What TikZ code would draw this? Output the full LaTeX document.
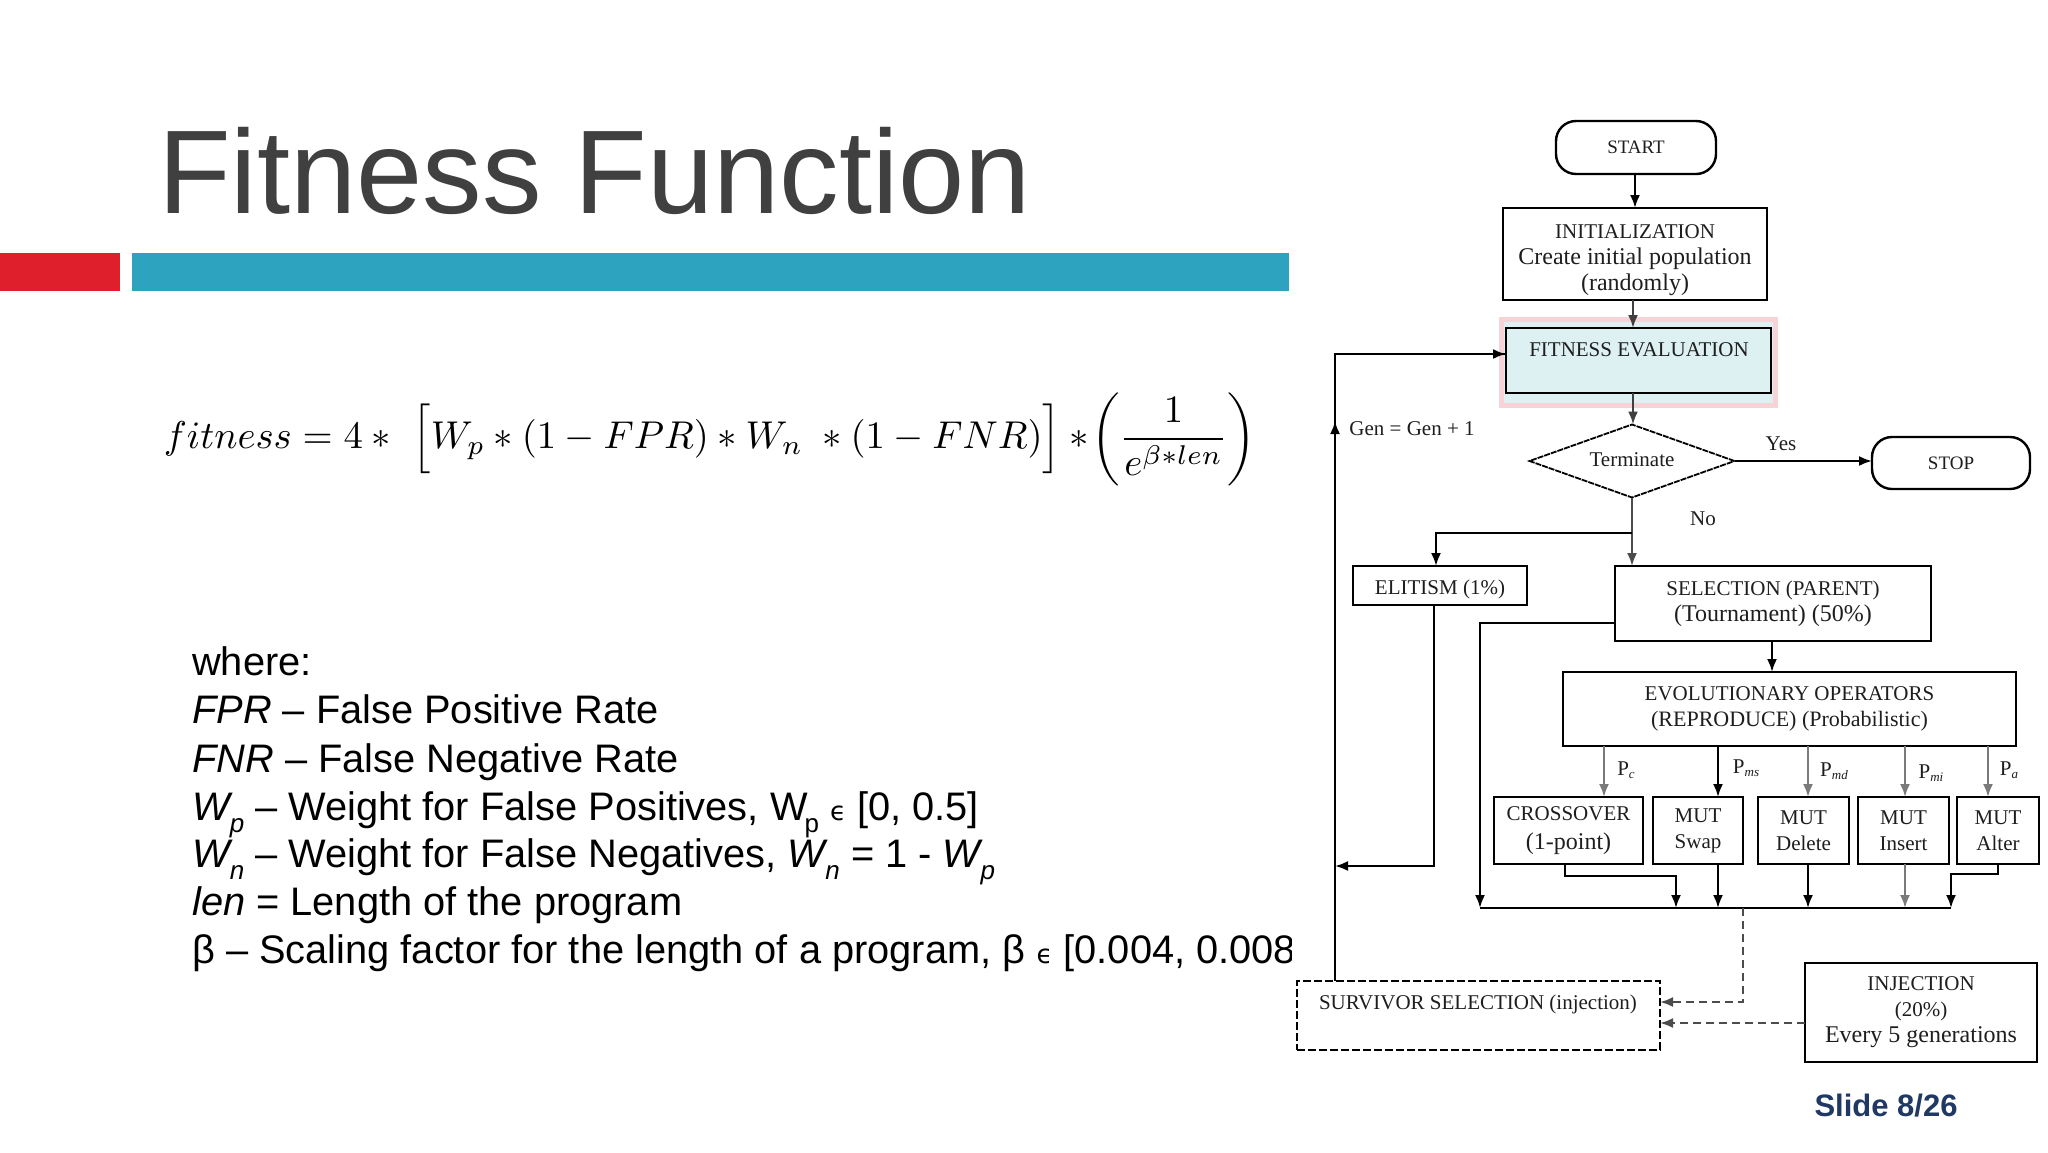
\documentclass[tikz,border=0pt]{standalone}
\usepackage{graphicx}
\usepackage{amsmath}
\usepackage{fontspec}
\setmainfont{Liberation Sans}
\newfontfamily\flowfont{Liberation Serif}
\newfontfamily\symbfont{DejaVu Sans}
\usetikzlibrary{arrows.meta,shapes.geometric}
\definecolor{titlegray}{HTML}{404040}
\definecolor{barred}{HTML}{E01F2D}
\definecolor{barteal}{HTML}{2EA3C0}
\definecolor{pinkframe}{HTML}{F7D3D8}
\definecolor{palecyan}{HTML}{DDF0F2}
\definecolor{slideblue}{HTML}{1F3864}
\definecolor{inkgray}{HTML}{1E1E1E}
\definecolor{midgray}{HTML}{7A7A7A}
\newcommand{\sbp}[1]{\kern-3pt\raisebox{-12pt}{\fontsize{26}{26}\selectfont\itshape #1}}
\newcommand{\psb}[1]{P\raisebox{-3pt}{\fontsize{13}{13}\selectfont\itshape #1}}
\newcommand{\lcline}[1]{{\fontsize{24}{26}\selectfont #1}}
\newcommand{\elem}{{\symbfont\fontsize{26}{26}\selectfont ϵ}}
\tikzset{
  flowtext/.style={font=\flowfont\fontsize{21}{26}\selectfont, text=inkgray, align=center, inner sep=0pt},
  flowbox/.style={flowtext, draw=black, line width=2.4pt, fill=white, outer sep=0pt},
  flowround/.style={flowbox, rounded corners=20pt},
  dashbox/.style={flowbox, dashed, line width=1.8pt, dash pattern=on 8pt off 3pt},
  conn/.style={draw=black, line width=2.2pt},
  connarrow/.style={conn, -{Latex[length=13pt,width=10pt]}},
  grayarrow/.style={connarrow, draw=midgray},
  dasharrow/.style={connarrow, draw=black!70, dash pattern=on 8pt off 5pt},
  listline/.style={font=\fontsize{39.8}{48}\selectfont, anchor=base west, inner sep=0pt, text=black},
}
\begin{document}
\begin{tikzpicture}[x=1pt,y=-1pt]
\useasboundingbox (0,0) rectangle (2048,1152);
\fill[white] (0,0) rectangle (2048,1152);

% slide furniture
\node[anchor=base west, inner sep=0pt, text=titlegray, font=\fontsize{119}{130}\selectfont] (title) at (158,213) {Fitness Function};
\fill[barred] (0,253) rectangle (120,291);
\fill[barteal] (132,253) rectangle (1289,291);
\node[anchor=center, inner sep=0pt] (formula) at (710,439) {\resizebox{1092pt}{!}{$fitness = 4 *\,\, \Bigl[W_p * (1 - FPR) * W_n\ * (1 - FNR)\Bigr] *\! \left(\dfrac{\;1\;}{e^{\beta * len}}\right)$}};

\node[listline] (l1) at (192,675) {where:};
\node[listline] (l2) at (192,723) {\textit{FPR} -- False Positive Rate};
\node[listline] (l3) at (192,772) {\textit{FNR} -- False Negative Rate};
\node[listline] (l4) at (192,820) {\textit{W}\sbp{p} -- Weight for False Positives, W\sbp{\upshape p} \elem{} [0, 0.5]};
\node[listline] (l5) at (192,867) {\textit{W}\sbp{n} -- Weight for False Negatives, \textit{W}\sbp{n} = 1 - \textit{W}\sbp{p}};
\node[listline] (l6) at (192,915) {\textit{len} = Length of the program};
\node[listline] (l7) at (192,963) {β -- Scaling factor for the length of a program, β \elem{} [0.004, 0.008};
\fill[white] (1292,930) rectangle (1330,980);

\node[inner sep=0pt, text=slideblue, font=\bfseries\fontsize{31}{36}\selectfont] (slide) at (1886,1106) {Slide 8/26};

% flowchart
\node[flowround, minimum width=160pt, minimum height=53pt, font=\flowfont\fontsize{19}{24}\selectfont] (start) at (1636,147.5) {START};
\node[flowbox, minimum width=264pt, minimum height=92pt] (init) at (1635,254) {\rule{0pt}{27pt}INITIALIZATION\\\lcline{Create initial population}\\\lcline{(randomly)}};
\node[draw=pinkframe, line width=5pt, fill=palecyan, minimum width=274pt, minimum height=86pt, inner sep=0pt] (highlight) at (1638.5,362) {};
\node[draw=black, line width=2.6pt, minimum width=265pt, minimum height=65pt, inner sep=0pt, outer sep=0pt] (fitness) at (1638.5,360.5) {};
\node[flowtext] (fitnesstext) at (1639,350) {FITNESS EVALUATION};
\node[diamond, draw=black, line width=1.8pt, dashed, dash pattern=on 6pt off 1pt, aspect=2.8, minimum width=205pt, minimum height=73pt, inner sep=0pt, outer sep=0pt, font=\flowfont\fontsize{21}{24}\selectfont, text=inkgray] (terminate) at (1632,461) {\raisebox{3pt}{Terminate}};
\node[flowround, minimum width=158pt, minimum height=52pt, font=\flowfont\fontsize{19}{24}\selectfont] (stop) at (1951,463) {STOP};
\node[flowbox, minimum width=174pt, minimum height=39pt] (elitism) at (1440,585.5) {\rule{0pt}{23pt}ELITISM (1\%)};
\node[flowbox, minimum width=316pt, minimum height=75pt] (selection) at (1773,603.5) {SELECTION (PARENT)\\\lcline{(Tournament) (50\%)}};
\node[flowbox, minimum width=453pt, minimum height=74pt] (evo) at (1789.5,709) {EVOLUTIONARY OPERATORS\\{\fontsize{22}{26}\selectfont (REPRODUCE) (Probabilistic)}};
\node[flowbox, minimum width=149pt, minimum height=67pt] (cross) at (1568.5,830.5) {CROSSOVER\\[3pt]\lcline{(1-point)}};
\node[flowbox, minimum width=90pt, minimum height=67pt] (swap) at (1698,830.5) {MUT\\Swap};
\node[flowbox, minimum width=91pt, minimum height=67pt] (delete) at (1803.5,830.5) {MUT\\Delete};
\node[flowbox, minimum width=91pt, minimum height=67pt] (insert) at (1903.5,830.5) {MUT\\Insert};
\node[flowbox, minimum width=82pt, minimum height=67pt] (alter) at (1998,830.5) {MUT\\Alter};
\node[dashbox, minimum width=363pt, minimum height=69pt] (survivor) at (1478.5,1015.5) {};
\node[flowtext] (survivortext) at (1478,1004) {SURVIVOR SELECTION (injection)};
\node[flowbox, minimum width=232pt, minimum height=99pt] (injection) at (1921,1012.5) {INJECTION\\(20\%)\\\lcline{Every 5 generations}};

% connector labels
\node[flowtext] (genlabel) at (1412,429) {Gen = Gen + 1};
\node[flowtext] (yeslabel) at (1781,444) {Yes};
\node[flowtext] (nolabel) at (1703,519) {No};
\node[flowtext] (pc) at (1626,770) {\psb{c}};
\node[flowtext] (pms) at (1746,768) {\psb{ms}};
\node[flowtext] (pmd) at (1834,771) {\psb{md}};
\node[flowtext] (pmi) at (1931,773) {\psb{mi}};
\node[flowtext] (pa) at (2009,770) {\psb{a}};

% connectors
\coordinate (bus) at (1480,908);
\coordinate (busend) at (1951,908);
\coordinate (branch) at (1632,533);
\draw[connarrow] (1635,0 |- start.south) -- (1635,0 |- init.north);
\draw[connarrow, draw=black!75] (1633,0 |- init.south) -- (1633,0 |- fitness.north);
\draw[connarrow, draw=black!75] (1633,0 |- fitness.south) -- (1633,0 |- terminate.north);
\draw[connarrow] (terminate.east) -- (stop.west |- terminate.east);
\draw[connarrow, draw=black!70] (terminate.south) -- (1632,0 |- selection.north);
\draw[connarrow] (branch) -- (1436,533) -- (1436,0 |- elitism.north);
\draw[conn] (1335,0 |- survivor.north) -- (1335,354) -- (fitness.west |- 0,354);
\coordinate (geta) at (1335,442);
\coordinate (getb) at (1335,421);
\draw[connarrow] (geta) -- (getb);
\draw[connarrow] (1500,354) -- (fitness.west |- 0,354);
\draw[connarrow] (1434,0 |- elitism.south) -- (1434,866) -- (1335,866);
\draw[connarrow] (selection.west |- 0,623) -- (1480,623) -- (bus);
\draw[connarrow] (1772,0 |- selection.south) -- (1772,0 |- evo.north);
\draw[grayarrow] (1604,0 |- evo.south) -- (1604,0 |- cross.north);
\draw[connarrow] (1718,0 |- evo.south) -- (1718,0 |- swap.north);
\draw[grayarrow] (1808,0 |- evo.south) -- (1808,0 |- delete.north);
\draw[grayarrow] (1905,0 |- evo.south) -- (1905,0 |- insert.north);
\draw[grayarrow] (1988,0 |- evo.south) -- (1988,0 |- alter.north);
\draw[conn] (bus) -- (busend);
\draw[connarrow] (1565,0 |- cross.south) -- (1565,876) -- (1676,876) -- (1676,908);
\draw[connarrow] (1718,0 |- swap.south) -- (1718,908);
\draw[connarrow] (1808,0 |- delete.south) -- (1808,908);
\draw[grayarrow] (1905,0 |- insert.south) -- (1905,908);
\draw[connarrow] (1998,0 |- alter.south) -- (1998,874) -- (1951,874) -- (busend);
\draw[dasharrow] (1743,908) -- (1743,1002) -- (survivor.east |- 0,1002);
\draw[dasharrow] (injection.west |- 0,1023) -- (survivor.east |- 0,1023);
\end{tikzpicture}
\end{document}
